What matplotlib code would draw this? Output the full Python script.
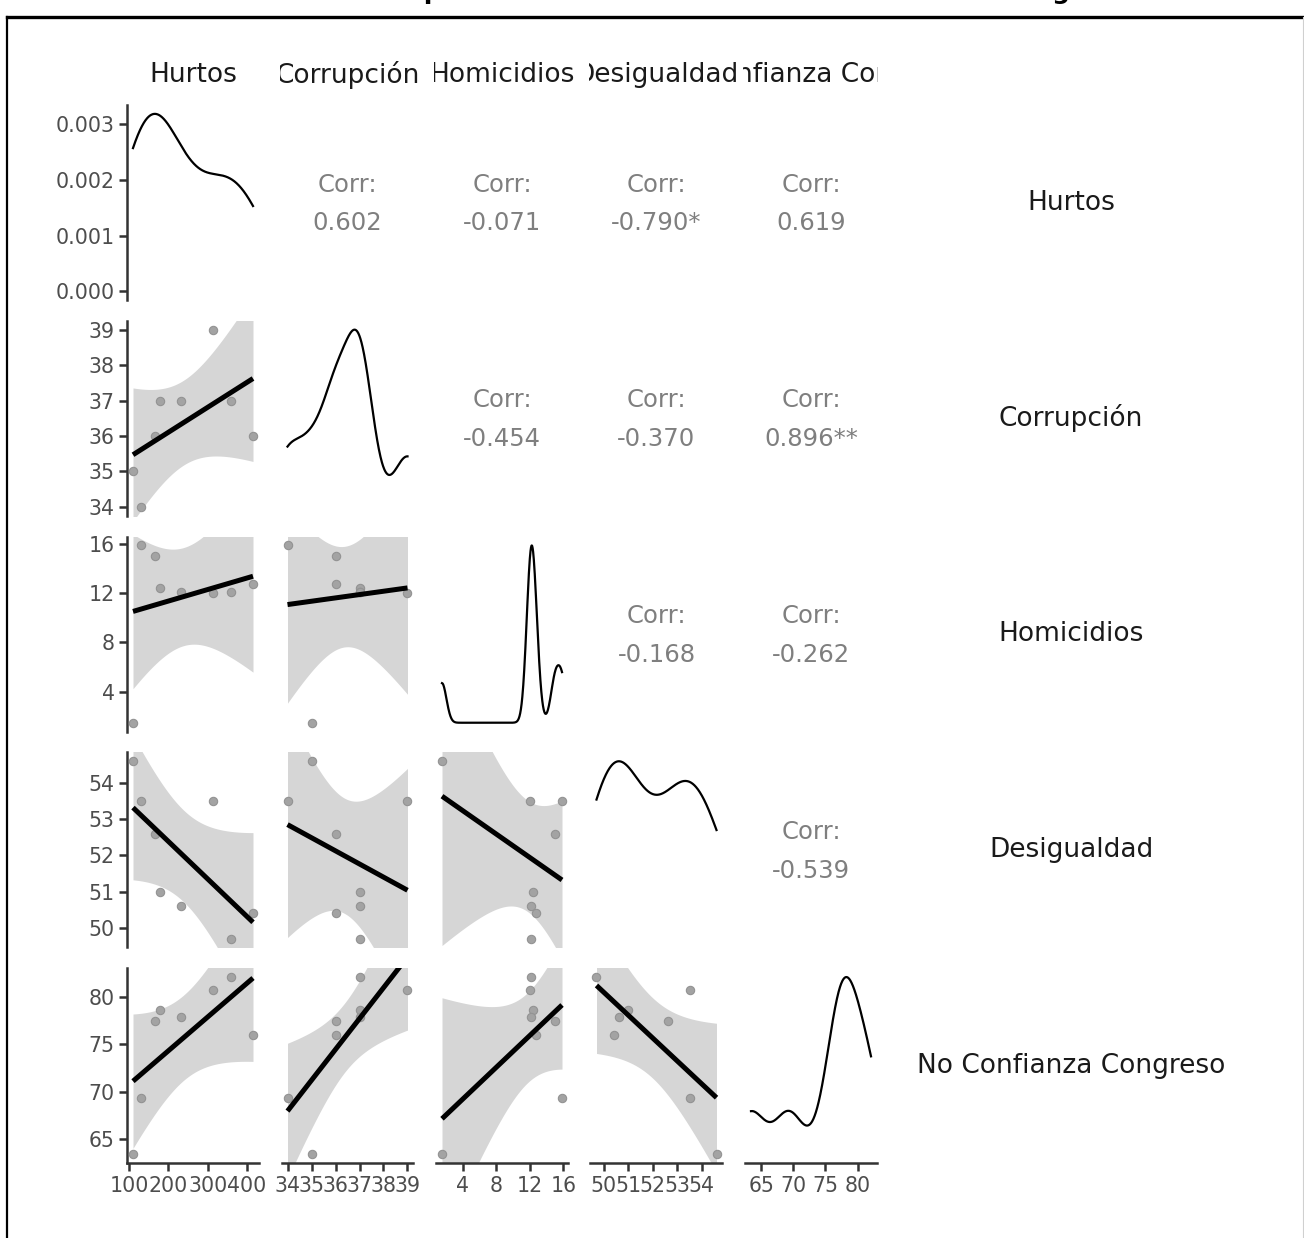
import numpy as np
import matplotlib
matplotlib.use("Agg")
import matplotlib.pyplot as plt
from matplotlib.lines import Line2D

# ---------------- data ----------------
variables = ["Hurtos", "Corrupción", "Homicidios", "Desigualdad", "No Confianza Congreso"]
hurtos = [110, 130, 167, 178, 232, 313, 360, 415]
corrupcion = [35, 34, 36, 37, 37, 39, 37, 36]
homicidios = [1.5, 15.85, 15.0, 12.4, 12.1, 12.0, 12.1, 12.7]
desigualdad = [54.6, 53.5, 52.6, 51.0, 50.6, 53.5, 49.7, 50.4]
no_confianza = [63.4, 69.3, 77.5, 78.6, 77.9, 80.7, 82.1, 76.0]

# correlation labels of the upper panels, row by row
upper_corr = ["0.602", "-0.071", "-0.790*", "0.619",
              "-0.454", "-0.370", "0.896**",
              "-0.168", "-0.262",
              "-0.539"]

ticks_hurtos = [100, 200, 300, 400]
ticks_corrupcion = [34, 35, 36, 37, 38, 39]
ticks_homicidios = [4, 8, 12, 16]
ticks_desigualdad = [50, 51, 52, 53, 54]
ticks_no_confianza = [65, 70, 75, 80]
ticks_density = [0.000, 0.001, 0.002, 0.003]

title = "Matriz de pares entre las variables del estudio de desigualdad"

data = [hurtos, corrupcion, homicidios, desigualdad, no_confianza]
ticks = [ticks_hurtos, ticks_corrupcion, ticks_homicidios, ticks_desigualdad, ticks_no_confianza]

# ---------------- helpers ----------------
W, H = 1304, 1238
DPI = 100
T_CRIT = 2.446912  # t(0.975, df = 6)


def rect(left, top, w, h):
    return [left / W, 1 - (top + h) / H, w / W, h / H]


def bw_nrd0(x):
    x = np.asarray(x, float)
    sd = x.std(ddof=1)
    q75, q25 = np.percentile(x, [75, 25])
    lo = min(sd, (q75 - q25) / 1.34)
    if lo == 0:
        lo = sd
    return 0.9 * lo * len(x) ** (-0.2)


def kde(x, n=512):
    x = np.asarray(x, float)
    bw = bw_nrd0(x)
    xs = np.linspace(x.min(), x.max(), n)
    d = np.exp(-0.5 * ((xs[:, None] - x[None, :]) / bw) ** 2).sum(1)
    d /= (len(x) * bw * np.sqrt(2 * np.pi))
    return xs, d


def lm_band(x, y, n=80):
    x = np.asarray(x, float)
    y = np.asarray(y, float)
    xs = np.linspace(x.min(), x.max(), n)
    xb = x.mean()
    sxx = ((x - xb) ** 2).sum()
    b = ((x - xb) * (y - y.mean())).sum() / sxx
    a = y.mean() - b * xb
    s = np.sqrt(((y - (a + b * x)) ** 2).sum() / (len(x) - 2))
    yh = a + b * xs
    se = s * np.sqrt(1 / len(x) + (xs - xb) ** 2 / sxx)
    return xs, yh, yh - T_CRIT * se, yh + T_CRIT * se


def lims(v):
    v = np.asarray(v, float)
    r = v.max() - v.min()
    return v.min() - 0.05 * r, v.max() + 0.05 * r


# ---------------- figure ----------------
plt.rcParams["font.family"] = ["DejaVu Sans"]
fig = plt.figure(figsize=(W / DPI, H / DPI), dpi=DPI)

AX_COL = "#333333"
TICK_COL = "#4d4d4d"
lefts = [127 + 154.5 * j for j in range(5)]
tops = [105 + 215.8 * i for i in range(5)]
PW, PH = 132, 195

k = 0
for i in range(5):
    for j in range(5):
        ax = fig.add_axes(rect(lefts[j], tops[i], PW, PH))
        ax.set_facecolor("none")
        for sp in ax.spines.values():
            sp.set_visible(False)
        ax.tick_params(colors=AX_COL, labelcolor=TICK_COL, labelsize=14.8,
                       length=6, width=1.8, direction="out", pad=3)
        ax.set_xlim(*lims(data[j]))
        if i == j:
            xs, d = kde(data[j])
            ax.plot(xs, d, color="black", lw=1.6)
            ax.set_ylim(-0.05 * d.max(), 1.05 * d.max())
        elif i > j:
            xs, yh, lo, hi = lm_band(data[j], data[i])
            ax.fill_between(xs, lo, hi, color="#d6d6d6", lw=0)
            ax.scatter(data[j], data[i], s=36, facecolor="#a3a3a3",
                       edgecolor="#939393", linewidth=0.8, zorder=3)
            ax.plot(xs, yh, color="black", lw=3.6, zorder=4,
                    solid_capstyle="butt")
            ax.set_ylim(*lims(data[i]))
        else:
            ax.set_ylim(0, 1)
            ax.text(0.5, 0.5 + 18 / PH, "Corr:", ha="center", va="center",
                    fontsize=17.5, color="#7f7f7f", transform=ax.transAxes)
            ax.text(0.5, 0.5 - 21 / PH, upper_corr[k], ha="center", va="center",
                    fontsize=17.5, color="#7f7f7f", transform=ax.transAxes)
            k += 1

        # left axis
        if j == 0:
            ax.spines["left"].set_visible(True)
            ax.spines["left"].set_color(AX_COL)
            ax.spines["left"].set_linewidth(1.8)
            if i == 0:
                ax.set_yticks(ticks_density)
                ax.set_yticklabels(["%.3f" % t for t in ticks_density])
            else:
                ax.set_yticks(ticks[i])
                ax.set_yticklabels([str(t) for t in ticks[i]])
        else:
            ax.set_yticks([])
        # bottom axis
        if i == 4:
            ax.spines["bottom"].set_visible(True)
            ax.spines["bottom"].set_color(AX_COL)
            ax.spines["bottom"].set_linewidth(1.8)
            ax.set_xticks(ticks[j])
            ax.set_xticklabels([str(t) for t in ticks[j]])
        else:
            ax.set_xticks([])

# top strips (text clipped to the strip box)
for j in range(5):
    left = lefts[j] - 2
    right = lefts[j + 1] - 2 if j < 4 else lefts[j] + PW + 1
    sax = fig.add_axes(rect(left, 50, right - left, 50))
    sax.set_axis_off()
    cx = (lefts[j] + PW / 2 - left) / (right - left)
    sax.text(cx, 0.5, variables[j], ha="center", va="center", fontsize=19,
             color="#1a1a1a", clip_on=True, transform=sax.transAxes)

# right strips
for i in range(5):
    sax = fig.add_axes(rect(885, tops[i], 372, PH))
    sax.set_axis_off()
    sax.text(0.5, 0.5, variables[i], ha="center", va="center", fontsize=19,
             color="#1a1a1a", clip_on=True, transform=sax.transAxes)

# title (almost entirely above the canvas, as in the reference)
fig.text(282 / W, 1 + 1 / H, title, ha="left", va="baseline", fontsize=18,
         fontweight="bold", color="black")

# frame
fig.add_artist(Line2D([7 / W, 1.0], [1 - 17 / H, 1 - 17 / H], color="black",
                      lw=2.4, transform=fig.transFigure))
fig.add_artist(Line2D([7 / W, 7 / W], [0, 1 - 17 / H], color="black",
                      lw=1.6, transform=fig.transFigure))
fig.add_artist(Line2D([1302.5 / W, 1302.5 / W], [0, 1 - 17 / H], color="#d0d0d0",
                      lw=0.8, transform=fig.transFigure))

fig.savefig("out.png", dpi=DPI)
